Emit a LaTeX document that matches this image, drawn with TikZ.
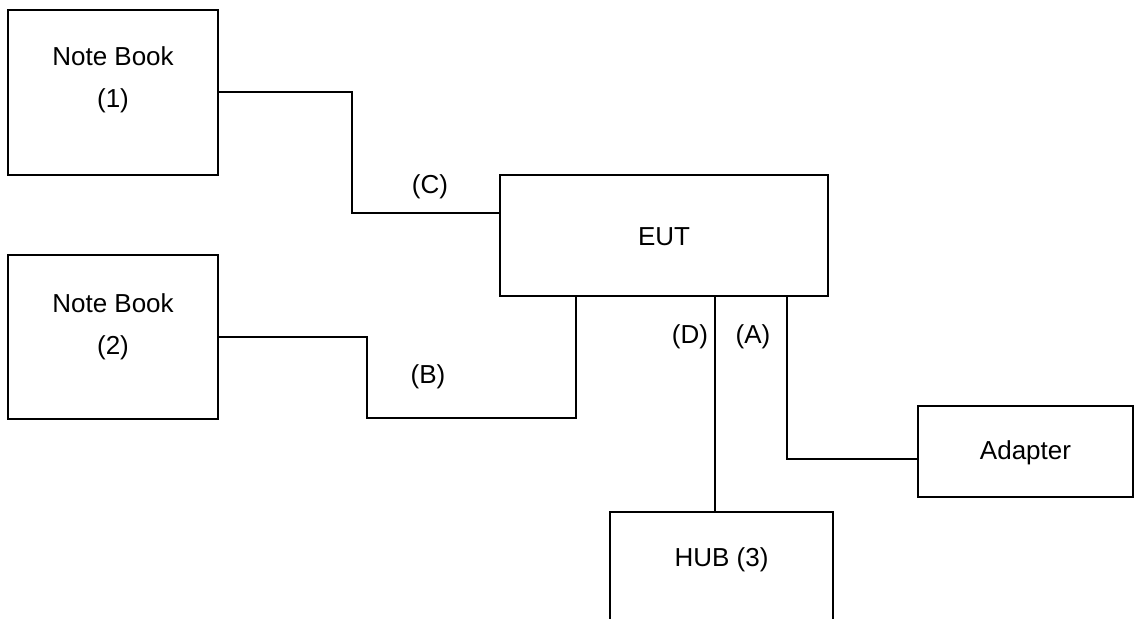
\documentclass[tikz,border=0pt]{standalone}
\usepackage{fontspec}
\setmainfont{Liberation Sans}
\usepackage{tikz}
\usetikzlibrary{positioning}
\tikzstyle{setup} = [x = 0.5pt, y = -0.5pt, line width = 1pt]
\tikzstyle{boxStyle} = [draw, rectangle, inner sep = 0pt, outer sep = 0pt, line width = 1pt]
\tikzstyle{boxText} = [font=\fontsize{13}{15.6}\selectfont, inner sep = 1pt]
\tikzstyle{cableLine} = [line width = 1pt]
\newcommand{\deviceBox}[5]{\node [boxStyle, minimum width = #4, minimum height = #5] (#1) at (#2,#3) {};}

\begin{document}
\begin{tikzpicture}[setup]
          \clip (0,0) rectangle (1143,619);
          \fill [white] (0,0) rectangle (1143,619);

          % devices
          \deviceBox{nbA}{113}{92.5}{105pt}{82.5pt}
          \deviceBox{nbB}{113}{337}{105pt}{82pt}
          \deviceBox{eut}{664}{235.5}{164pt}{60.5pt}
          \deviceBox{adapter}{1025.5}{451.5}{107.5pt}{45.5pt}
          \deviceBox{hub}{721.5}{576}{111.5pt}{64pt}

          \node [boxText] (nbAName) at (113,56) {Note Book};
          \node [boxText] (nbANum) at (113,101) {(1)};
          \node [boxText] (nbBName) at (113,303) {Note Book};
          \node [boxText] (nbBNum) at (113,348) {(2)};
          \node [boxText] (eutName) at (664,237) {EUT};
          \node [boxText] (adapterName) at (1025.5,453) {Adapter};
          \node [boxText] (hubName) at (721.5,560) {HUB (3)};

          % cables
          \coordinate (jC) at (352,213);
          \coordinate (jB) at (367,418);
          \coordinate (eutB) at (576,296);
          \coordinate (eutD) at (715,296);
          \coordinate (eutA) at (787,296);
          \coordinate (adA) at (918,459);

          \draw [cableLine] (nbA.east) -| (jC) -- (jC -| eut.west);
          \draw [cableLine] (nbB.east) -| (jB) -| (eutB);
          \draw [cableLine] (eutD) -- (eutD |- hub.north);
          \draw [cableLine] (eutA) |- (adA);

          \node [boxText] (labelC) at (430,187) {(C)};
          \node [boxText] (labelB) at (428,377) {(B)};
          \node [boxText] (labelD) at (690,337) {(D)};
          \node [boxText] (labelA) at (753,337) {(A)};
        \end{tikzpicture}
\end{document}
